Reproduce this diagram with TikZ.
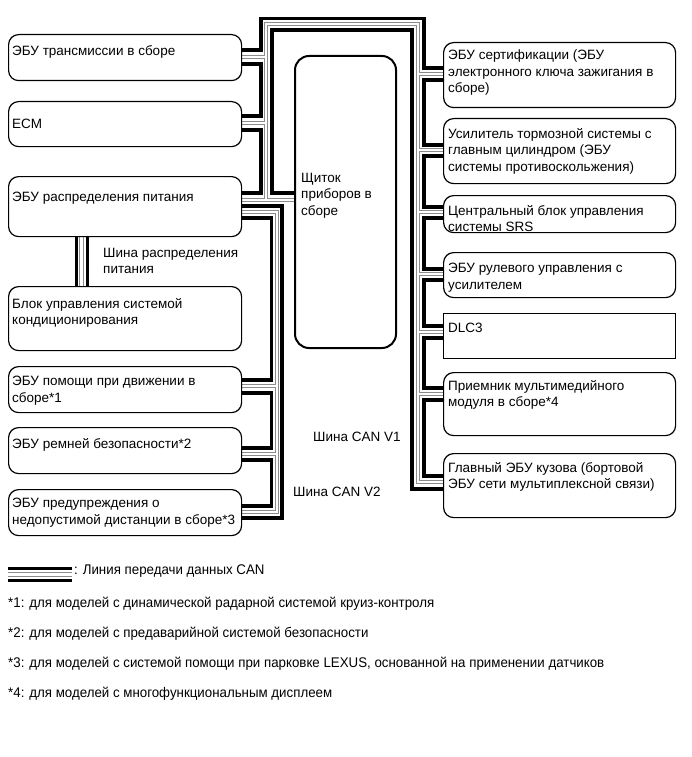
\documentclass[tikz,border=0pt]{standalone}
\usepackage{fontspec}
\setmainfont{Liberation Sans}
\newfontfamily\narrowfont[FakeStretch=0.95]{Liberation Sans}
\usetikzlibrary{positioning,calc,backgrounds}

\tikzset{
  ecu/.style={draw, line width=1.2pt, rounded corners=10pt, fill=white, anchor=north west,
    minimum width=233pt, inner sep=0pt},
  ecutext/.style={anchor=north west, align=left, inner sep=0pt, font=\fontsize{13.5}{16.5}\selectfont},
  canthick/.style={line width=3.4pt},
  canedge/.style={line width=4.6pt, black!45},
  cancore/.style={line width=2.4pt, white},
  note/.style={anchor=west, inner sep=0pt, font=\narrowfont\fontsize{14}{16}\selectfont}
}

% double wire of the CAN lines, drawn once for the edge and once for the core
\newcommand{\dblroutes}[1]{%
  \draw[#1] (b3.east |- 0,200) -- (cl.west |- 0,200);
  \draw[#1] (266,200) |- (418,24) -- (418,482) -- (r7.west |- 0,482);
  \foreach \bx/\yy in {b1/57, b2/123} {\draw[#1] (\bx.east |- 0,\yy) -- (266,\yy);}
  \foreach \rx/\yy in {r1/74, r2/150, r3/212, r4/274, r5/332, r6/394} {\draw[#1] (418,\yy) -- (\rx.west |- 0,\yy);}
  \draw[#1] (b3.east |- 0,212) -| (277,512) -- (b7.east |- 0,512);
  \foreach \bx/\yy in {b5/386, b6/454} {\draw[#1] (\bx.east |- 0,\yy) -- (277,\yy);}
  \draw[#1] (b3.south -| 81.5,0) -- (b4.north -| 81.5,0);
  \draw[#1] (lg1) -- (lg2);
}

\begin{document}
\begin{tikzpicture}[x=1pt, y=-1pt]
  \useasboundingbox (0,0) rectangle (691,757);

  % Left ECUs
  \node[ecu, minimum height=46pt] (b1) at (8,34) {};
  \node[ecu, minimum height=45pt] (b2) at (8,101) {};
  \node[ecu, minimum height=60pt] (b3) at (8,176) {};
  \node[ecu, minimum height=64pt] (b4) at (8,286) {};
  \node[ecu, minimum height=46pt] (b5) at (8,366) {};
  \node[ecu, minimum height=46pt] (b6) at (8,427) {};
  \node[ecu, minimum height=46pt] (b7) at (8,489) {};

  % Right ECUs
  \node[ecu, minimum width=232pt, minimum height=65pt] (r1) at (443,42) {};
  \node[ecu, minimum width=232pt, minimum height=65pt] (r2) at (443,118) {};
  \node[ecu, minimum width=232pt, minimum height=37pt] (r3) at (443,195) {};
  \node[ecu, minimum width=232pt, minimum height=45pt] (r4) at (443,252) {};
  \node[ecu, sharp corners, minimum width=232pt, minimum height=45pt] (r5) at (443,313) {};
  \node[ecu, minimum width=232pt, minimum height=63pt] (r6) at (443,372) {};
  \node[ecu, minimum width=232pt, minimum height=64pt] (r7) at (443,453) {};

  % Instrument cluster
  \node[ecu, minimum width=101pt, minimum height=292pt, rounded corners=14pt, line width=2pt] (cl) at (294,55) {};

  % Texts
  \node[ecutext] (t1) at (12,45) {ЭБУ трансмиссии в сборе};
  \node[ecutext] (t2) at (12,119) {ECM};
  \node[ecutext] (t3) at (12,192) {ЭБУ распределения питания};
  \node[ecutext] (t4) at (12,298) {Блок управления системой\\кондиционирования};
  \node[ecutext] (t5) at (12,376) {ЭБУ помощи при движении в\\сборе*1};
  \node[ecutext] (t6) at (12,438) {ЭБУ ремней безопасности*2};
  \node[ecutext] (t7) at (12,498) {ЭБУ предупреждения о\\недопустимой дистанции в сборе*3};
  \node[ecutext] (s1) at (448,50) {ЭБУ сертификации (ЭБУ\\электронного ключа зажигания в\\сборе)};
  \node[ecutext] (s2) at (448,128) {Усилитель тормозной системы с\\главным цилиндром (ЭБУ\\системы противоскольжения)};
  \node[ecutext] (s3) at (448,205) {Центральный блок управления\\системы SRS};
  \node[ecutext] (s4) at (448,263) {ЭБУ рулевого управления с\\усилителем};
  \node[ecutext] (s5) at (448,323) {DLC3};
  \node[ecutext] (s6) at (448,380) {Приемник мультимедийного\\модуля в сборе*4};
  \node[ecutext] (s7) at (448,462) {Главный ЭБУ кузова (бортовой\\ЭБУ сети мультиплексной связи)};
  \node[ecutext] (tcl) at (301,173) {Щиток\\приборов в\\сборе};

  % Bus labels
  \node[ecutext] (lpw) at (103,248) {Шина распределения\\питания};
  \node[ecutext] (lv1) at (313,432) {Шина CAN V1};
  \node[ecutext] (lv2) at (293,487) {Шина CAN V2};

  % Legend
  \coordinate (lg1) at (8,574.5);
  \coordinate (lg2) at (72,574.5);
  \node[note] (lgt) at (74,571) {: Линия передачи данных CAN};
  \node[note] (n1) at (8,604) {*1: для моделей с динамической радарной системой круиз-контроля};
  \node[note] (n2) at (8,634) {*2: для моделей с предаварийной системой безопасности};
  \node[note] (n3) at (8,664) {*3: для моделей с системой помощи при парковке LEXUS, основанной на применении датчиков};
  \node[note] (n4) at (8,694) {*4: для моделей с многофункциональным дисплеем};

  \begin{scope}[on background layer]
    % CAN V1, chain through the ECUs
    \draw[canthick] (b1.east |- 0,50) -| (261,18.5) -| (424,68) -- (r1.west |- 0,68);
    \foreach \bx/\ya/\by/\yb in {b1/64/b2/116, b2/130/b3/193}
      \draw[canthick] (\bx.east |- 0,\ya) -| (261,\yb) -- (\by.east |- 0,\yb);
    \foreach \rx/\ya/\ry/\yb in {r1/80/r2/145, r2/156/r3/207, r3/218/r4/269, r4/280/r5/326, r5/338/r6/388, r6/400/r7/476}
      \draw[canthick] (\rx.west |- 0,\ya) -| (424,\yb) -- (\ry.west |- 0,\yb);
    \draw[canthick] (cl.west |- 0,193) -| (272,30) -| (412,489) -- (r7.west |- 0,489);
    % CAN V2
    \draw[canthick] (b3.east |- 0,206) -| (282,518) -- (b7.east |- 0,518);
    \foreach \bx/\ya/\by/\yb in {b3/218/b5/380, b5/393/b6/448, b6/460/b7/506}
      \draw[canthick] (\bx.east |- 0,\ya) -| (271.5,\yb) -- (\by.east |- 0,\yb);
    % Power distribution bus
    \draw[canthick] (b3.south -| 76.5,0) -- (b4.north -| 76.5,0);
    \draw[canthick] (b3.south -| 87.5,0) -- (b4.north -| 87.5,0);
    % Legend sample
    \draw[canthick] ($(lg1)+(0,-6)$) -- ($(lg2)+(0,-6)$);
    \draw[canthick] ($(lg1)+(0,6)$) -- ($(lg2)+(0,6)$);
    % Double wires
    \dblroutes{canedge}
    \dblroutes{cancore}
  \end{scope}
\end{tikzpicture}
\end{document}
